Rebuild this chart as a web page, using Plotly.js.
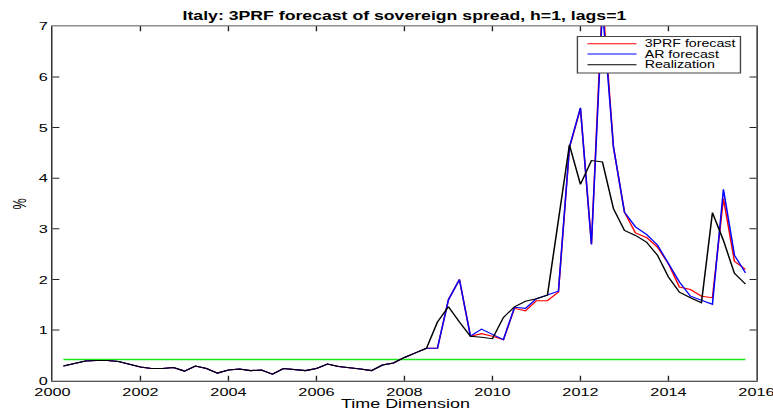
<!DOCTYPE html>
<html>
<head>
<meta charset="utf-8">
<script src="https://cdn.plot.ly/plotly-3.0.1.min.js"></script>
<style>
  html, body { margin: 0; padding: 0; background: #fff; overflow: hidden; }
  #wrap { position: absolute; left: 0; top: 0; width: 773px; height: 410px; overflow: hidden; }
  /* figure is laid out at 560x420 and stretched to the 773x410 frame */
  #chart { position: absolute; left: 0; top: 0; width: 560px; height: 420px;
           transform: scale(1.38036, 0.97619); transform-origin: 0 0; }
</style>
</head>
<body>
<div id="wrap"><div id="chart"></div></div>
<script>
// Quarterly observation dates (decimal years)
const quarters = [
  2000.25, 2000.50, 2000.75, 2001.00, 2001.25, 2001.50, 2001.75, 2002.00,
  2002.25, 2002.50, 2002.75, 2003.00, 2003.25, 2003.50, 2003.75, 2004.00,
  2004.25, 2004.50, 2004.75, 2005.00, 2005.25, 2005.50, 2005.75, 2006.00,
  2006.25, 2006.50, 2006.75, 2007.00, 2007.25, 2007.50, 2007.75, 2008.00,
  2008.25, 2008.50, 2008.75, 2009.00, 2009.25, 2009.50, 2009.75, 2010.00,
  2010.25, 2010.50, 2010.75, 2011.00, 2011.25, 2011.50, 2011.75, 2012.00,
  2012.25, 2012.50, 2012.75, 2013.00, 2013.25, 2013.50, 2013.75, 2014.00,
  2014.25, 2014.50, 2014.75, 2015.00, 2015.25, 2015.50, 2015.75
];

// Realized Italian sovereign spread (%)
const realization = [
  0.29, 0.34, 0.39, 0.40, 0.40, 0.38, 0.33, 0.27,
  0.24, 0.24, 0.26, 0.19, 0.29, 0.24, 0.15, 0.21,
  0.23, 0.20, 0.21, 0.13, 0.24, 0.22, 0.20, 0.24,
  0.33, 0.28, 0.26, 0.23, 0.20, 0.31, 0.35, 0.46,
  0.55, 0.64, 1.16, 1.46, 1.16, 0.88, 0.86, 0.83,
  1.25, 1.46, 1.57, 1.62, 1.69, 3.18, 4.66, 3.88,
  4.35, 4.32, 3.40, 2.97, 2.87, 2.74, 2.48, 2.05,
  1.75, 1.64, 1.54, 3.32, 2.77, 2.12, 1.91
];

// Three-pass regression filter forecast, h=1, lags=1 (%)
const prfForecast = [
  0.29, 0.34, 0.39, 0.40, 0.40, 0.38, 0.33, 0.27,
  0.24, 0.24, 0.26, 0.19, 0.29, 0.24, 0.15, 0.21,
  0.23, 0.20, 0.21, 0.13, 0.24, 0.22, 0.20, 0.24,
  0.33, 0.28, 0.26, 0.23, 0.20, 0.31, 0.35, 0.46,
  0.55, 0.64, 0.64, 1.60, 2.00, 0.88, 0.93, 0.88,
  0.81, 1.43, 1.38, 1.58, 1.58, 1.75, 4.60, 5.38,
  2.70, 7.55, 4.62, 3.33, 2.92, 2.83, 2.64, 2.31,
  1.85, 1.80, 1.67, 1.64, 3.60, 2.36, 2.20
];

// Autoregressive benchmark forecast (%)
const arForecast = [
  0.29, 0.34, 0.39, 0.40, 0.40, 0.38, 0.33, 0.27,
  0.24, 0.24, 0.26, 0.19, 0.29, 0.24, 0.15, 0.21,
  0.23, 0.20, 0.21, 0.13, 0.24, 0.22, 0.20, 0.24,
  0.33, 0.28, 0.26, 0.23, 0.20, 0.31, 0.35, 0.46,
  0.55, 0.64, 0.64, 1.60, 2.00, 0.88, 1.02, 0.91,
  0.81, 1.45, 1.43, 1.62, 1.69, 1.77, 4.62, 5.39,
  2.69, 7.35, 4.62, 3.33, 3.04, 2.89, 2.68, 2.31,
  1.95, 1.67, 1.59, 1.51, 3.78, 2.48, 2.13
];

// Flat reference level (%)
const referenceLevel = 0.42;

const seriesNames = ['3PRF forecast', 'AR forecast', 'Realization'];
const seriesColors = ['#ff0000', '#0000ff', '#000000'];
const xTicks = [2000, 2002, 2004, 2006, 2008, 2010, 2012, 2014, 2016];
const yTicks = [0, 1, 2, 3, 4, 5, 6, 7];

const FONT = 'Liberation Sans, Arial, Helvetica, sans-serif';
const lw = 1.1;

const traces = [
  {
    x: [quarters[0], quarters[quarters.length - 1]],
    y: [referenceLevel, referenceLevel],
    mode: 'lines', line: { color: '#1ee61e', width: 1.5 },
    showlegend: false, hoverinfo: 'skip'
  },
  { x: quarters, y: prfForecast, name: seriesNames[0], mode: 'lines',
    line: { color: seriesColors[0], width: lw }, showlegend: false },
  { x: quarters, y: arForecast, name: seriesNames[1], mode: 'lines',
    line: { color: seriesColors[1], width: lw }, showlegend: false },
  { x: quarters, y: realization, name: seriesNames[2], mode: 'lines',
    line: { color: seriesColors[2], width: lw }, showlegend: false }
];

// Boxed legend in the upper right corner of the axes
const leg = { x0: 0.7457, x1: 0.9773, y0: 0.8681, y1: 0.9716,
              lineX0: 0.760, lineX1: 0.8296, textX: 0.838,
              rows: [0.951, 0.9218, 0.8918] };

const shapes = [
  { type: 'rect', xref: 'paper', yref: 'paper',
    x0: leg.x0, x1: leg.x1, y0: leg.y0, y1: leg.y1,
    line: { color: '#444', width: 1 }, fillcolor: '#ffffff', layer: 'above' }
];
const annotations = [];
seriesNames.forEach((name, i) => {
  shapes.push({ type: 'line', xref: 'paper', yref: 'paper',
    x0: leg.lineX0, x1: leg.lineX1, y0: leg.rows[i], y1: leg.rows[i],
    line: { color: seriesColors[i], width: lw }, layer: 'above' });
  annotations.push({ xref: 'paper', yref: 'paper', x: leg.textX, y: leg.rows[i],
    xanchor: 'left', yanchor: 'middle', showarrow: false, text: name,
    font: { family: FONT, size: 10.3, color: '#000' } });
});

// Axis labels
annotations.push({ xref: 'paper', yref: 'paper', x: 0.5, y: -0.065,
  xanchor: 'center', yanchor: 'middle', showarrow: false, text: 'Time Dimension',
  font: { family: FONT, size: 13, color: '#000' } });
annotations.push({ xref: 'paper', yref: 'paper', x: -0.047, y: 0.5,
  xanchor: 'center', yanchor: 'middle', showarrow: false, text: '%', textangle: -90,
  font: { family: FONT, size: 13, color: '#000' } });

const axisCommon = {
  showgrid: false, zeroline: false, showline: true, linecolor: '#222', linewidth: 1,
  mirror: 'ticks', ticks: 'inside', ticklen: 5, tickwidth: 1, tickcolor: '#222',
  ticklabeloverflow: 'allow',
  tickfont: { family: FONT, size: 11.8, color: '#000' }
};

const layout = {
  width: 560, height: 420,
  margin: { l: 38.4, r: 11.6, t: 26.6, b: 30.2, pad: 0 },
  paper_bgcolor: '#ffffff', plot_bgcolor: '#ffffff',
  title: { text: '<b>Italy: 3PRF forecast of sovereign spread, h=1, lags=1</b>',
           font: { family: FONT, size: 12.8, color: '#000' },
           x: 0.5, xref: 'paper', xanchor: 'center',
           y: 1 - 16.5 / 420, yref: 'container', yanchor: 'middle' },
  xaxis: Object.assign({}, axisCommon, {
    range: [2000, 2016], tickvals: xTicks, ticktext: xTicks.map(String) }),
  yaxis: Object.assign({}, axisCommon, {
    range: [0, 7], tickvals: yTicks, ticktext: yTicks.map(String) }),
  shapes: shapes,
  annotations: annotations,
  showlegend: false
};

Plotly.newPlot('chart', traces, layout, { staticPlot: true, displayModeBar: false });
</script>
</body>
</html>
